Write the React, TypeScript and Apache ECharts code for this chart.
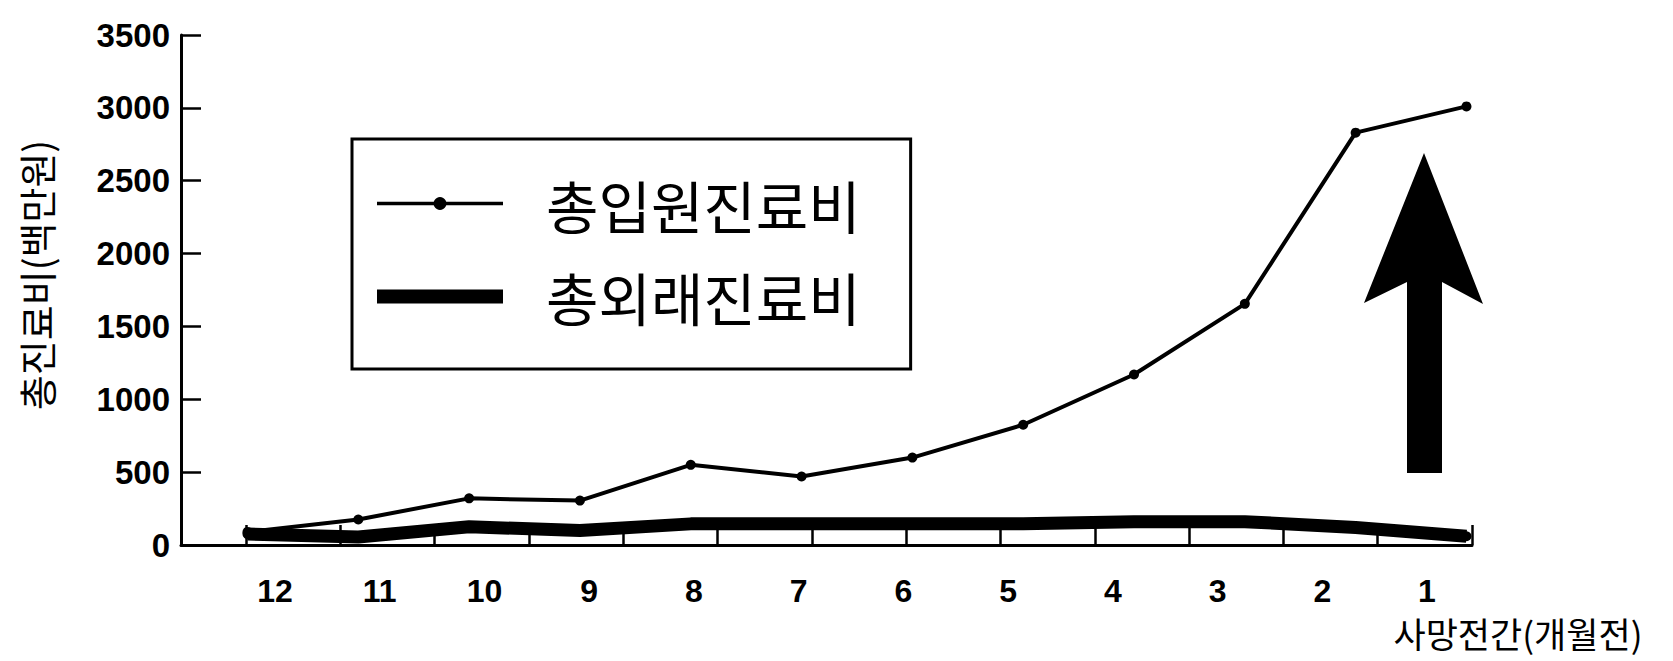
import React, { useEffect, useRef } from "react";
import * as echarts from "echarts";

const months = ["12", "11", "10", "9", "8", "7", "6", "5", "4", "3", "2", "1"];
const inpatient = [90, 175, 320, 305, 550, 470, 600, 825, 1170, 1655, 2830, 3010];
const outpatient = [75, 55, 125, 100, 145, 145, 145, 145, 160, 160, 120, 60];
const yTicks = { min: 0, max: 3500, interval: 500 };
const seriesNames = ["총입원진료비", "총외래진료비"];
const yName = "총진료비(백만원)";
const xName = "사망전간(개월전)";

export default function App() {
  const ref = useRef<HTMLDivElement>(null);
  useEffect(() => {
    if (!ref.current) return;
    const chart = echarts.init(ref.current, null, { renderer: "svg" });
    const black = "#000";
    const numFont = "Liberation Sans";
    const krFont = "Noto Sans CJK KR";
    const hiddenY = (gridIndex: number) => ({
      type: "value",
      gridIndex,
      min: yTicks.min,
      max: yTicks.max,
      show: false,
    });
    chart.setOption({
      animation: false,
      backgroundColor: "#fff",
      grid: [
        { left: 181, right: 201, top: 35, bottom: 116 },
        { left: 246, right: 201, top: 35, bottom: 116 },
        { left: 275, right: 246, top: 35, bottom: 116 },
      ],
      xAxis: [
        {
          type: "value",
          gridIndex: 0,
          min: -0.6,
          max: 11.05,
          axisLine: { show: true, onZero: false, lineStyle: { color: black, width: 3 } },
          axisTick: { show: false },
          axisLabel: { show: false },
          splitLine: { show: false },
        },
        {
          type: "value",
          gridIndex: 1,
          min: 0,
          max: 13,
          interval: 1,
          axisLine: { show: false, onZero: false },
          axisTick: { show: true, inside: true, length: 20, lineStyle: { color: black, width: 2.5 } },
          axisLabel: { show: false },
          splitLine: { show: false },
        },
        {
          type: "category",
          gridIndex: 2,
          data: months,
          boundaryGap: false,
          axisLine: { show: false, onZero: false },
          axisTick: { show: false },
          axisLabel: {
            show: true,
            margin: 30,
            fontSize: 32,
            fontWeight: "bold",
            fontFamily: numFont,
            color: black,
          },
          splitLine: { show: false },
        },
      ],
      yAxis: [
        {
          type: "value",
          gridIndex: 0,
          min: yTicks.min,
          max: yTicks.max,
          interval: yTicks.interval,
          axisLine: { show: true, onZero: false, lineStyle: { color: black, width: 3 } },
          axisTick: { show: true, inside: true, length: 20, lineStyle: { color: black, width: 2.5 } },
          axisLabel: {
            margin: 11,
            fontSize: 33,
            fontWeight: "bold",
            fontFamily: numFont,
            color: black,
            formatter: (v: number) => String(v),
          },
          splitLine: { show: false },
          name: yName,
          nameLocation: "middle",
          nameRotate: 90,
          nameGap: 127,
          nameMoveOverlap: false,
          nameTextStyle: { fontSize: 38, fontFamily: krFont, color: black, padding: [0, 0, 0, 30] },
        },
        hiddenY(1),
        hiddenY(2),
      ],
      legend: {
        orient: "vertical",
        left: 352,
        top: 139,
        padding: [36, 50, 44, 18],
        itemGap: 36,
        itemWidth: 126,
        itemHeight: 16,
        borderColor: black,
        borderWidth: 3,
        textStyle: { fontSize: 57, fontFamily: krFont, color: black, padding: [0, 0, 0, 38] },
        data: [
          { name: seriesNames[0], lineStyle: { width: 3.5 } },
          { name: seriesNames[1], lineStyle: { width: 14 } },
        ],
      },
      series: [
        {
          name: seriesNames[0],
          type: "line",
          xAxisIndex: 0,
          yAxisIndex: 0,
          data: inpatient.map((v, i) => [i, v]),
          symbol: "circle",
          symbolSize: 10,
          itemStyle: { color: black },
          lineStyle: { color: black, width: 4 },
          z: 3,
        },
        {
          name: seriesNames[1],
          type: "line",
          xAxisIndex: 0,
          yAxisIndex: 0,
          data: outpatient.map((v, i) => [i, v]),
          symbol: "circle",
          symbolSize: 10,
          itemStyle: { color: black },
          lineStyle: { color: black, width: 13 },
          z: 2,
        },
      ],
      graphic: [
        {
          type: "polygon",
          shape: {
            points: [
              [1424, 153],
              [1483, 304],
              [1442, 282],
              [1442, 473],
              [1407, 473],
              [1407, 282],
              [1364, 303],
            ],
          },
          style: { fill: black },
        },
        {
          type: "text",
          x: 1518,
          y: 632,
          style: {
            text: xName,
            fontSize: 35,
            fontFamily: krFont,
            fill: black,
            align: "center",
            verticalAlign: "middle",
          },
        },
      ],
    });
    return () => chart.dispose();
  }, []);
  return (
    <div
      ref={ref}
      style={{ position: "fixed", left: 0, top: 0, width: 1673, height: 661, background: "#fff" }}
    />
  );
}
